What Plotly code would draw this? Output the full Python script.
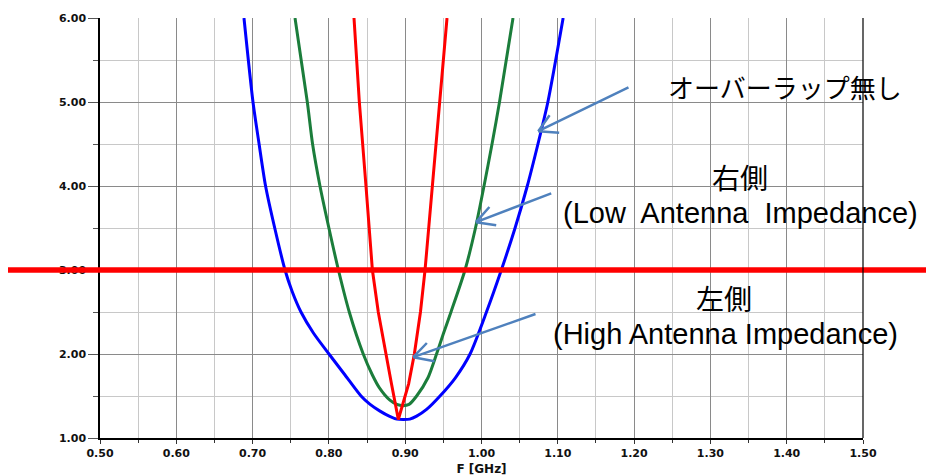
import plotly.graph_objects as go

# ---- data ----
blue_f = [0.6887, 0.7005, 0.7085, 0.7170, 0.7290, 0.7425, 0.7516, 0.7634, 0.7797, 0.8001,
          0.8211, 0.8421, 0.8540, 0.8670, 0.8790, 0.8890, 0.8980, 0.9060, 0.9150, 0.9280,
          0.9456, 0.9660, 0.9850, 1.0065, 1.0260, 1.0440, 1.0600, 1.0740, 1.0870, 1.1070]
blue_v = [6.00, 5.00, 4.50, 4.00, 3.50, 3.00, 2.75, 2.50, 2.25, 2.00,
          1.75, 1.50, 1.40, 1.32, 1.26, 1.225, 1.22, 1.225, 1.26, 1.34,
          1.50, 1.72, 2.00, 2.50, 3.00, 3.50, 4.00, 4.50, 5.00, 6.00]

green_f = [0.7556, 0.7717, 0.7786, 0.7883, 0.8000, 0.8125, 0.8267, 0.8450, 0.8570, 0.8660,
           0.8800, 0.8890, 0.8970, 0.9050, 0.9150, 0.9300, 0.9411, 0.9500, 0.9600, 0.9784,
           0.9921, 1.0033, 1.0138, 1.0236, 1.0413]
green_v = [6.00, 5.00, 4.50, 4.00, 3.50, 3.00, 2.50, 2.00, 1.75, 1.60,
           1.45, 1.40, 1.385, 1.40, 1.50, 1.72, 2.00, 2.24, 2.50, 3.00,
           3.50, 4.00, 4.50, 5.00, 6.00]

red_f = [0.8329, 0.8399, 0.8486, 0.8570, 0.8647, 0.8690, 0.8745, 0.8820, 0.8910,
         0.9045, 0.9120, 0.9200, 0.9260, 0.9355, 0.9447, 0.9548]
red_v = [6.00, 5.00, 4.00, 3.00, 2.50, 2.28, 2.00, 1.645, 1.22,
         1.645, 2.00, 2.50, 3.00, 4.00, 5.00, 6.00]

threshold = 3.0
x_ticks = [0.5, 0.6, 0.7, 0.8, 0.9, 1.0, 1.1, 1.2, 1.3, 1.4, 1.5]
y_ticks = [1.0, 2.0, 3.0, 4.0, 5.0, 6.0]

label_none = "オーバーラップ無し"
label_right = "右側"
label_right_en = "(Low\u00a0 Antenna\u00a0 Impedance)"
label_left = "左側"
label_left_en = "(High Antenna Impedance)"

# ---- layout geometry (page body has an 8px offset) ----
OFF = 8
W, H = 934 - OFF, 476 - OFF
ML, MR, MT, MB = 100 - OFF, 71, 18 - OFF, 38
PW, PH = W - ML - MR, H - MT - MB


def px(xp):
    return (xp - OFF - ML) / PW


def py(yp):
    return (H - MB - (yp - OFF)) / PH


fig = go.Figure()
for fx, vy, col, shp in [(blue_f, blue_v, "#0000ff", "spline"), (green_f, green_v, "#1b7d3b", "spline"),
                         (red_f, red_v, "#ff0000", "linear")]:
    fig.add_trace(go.Scatter(x=fx, y=vy, mode="lines",
                             line=dict(color=col, width=3, shape=shp, smoothing=0.7),
                             showlegend=False, hoverinfo="skip"))

# threshold line (extends past plot area)
fig.add_shape(type="line", xref="paper", yref="y", x0=px(7), x1=px(940), y0=threshold, y1=threshold,
              line=dict(color="#ff0000", width=5.5), layer="above")
# right border
fig.add_shape(type="line", xref="paper", yref="paper", x0=1, x1=1, y0=0, y1=1,
              line=dict(color="#000000", width=1.2), layer="above")

# arrows: tip on curve (data coords), tail/wings as pixel offsets
arrow_col = "#4f81bd"
arrows = [
    (1.0744, 4.652, (91.7, -44.7), [(12.4, -17.4), (22.4, 1.6)]),
    (0.9928, 3.569, (76.7, -29.4), [(14.7, -16.7), (21.7, 3.3)]),
    (0.9106, 1.962, (123.7, -43.7), [(15.0, -15.7), (22.7, 4.3)]),
]
for tx, ty, tail, wings in arrows:
    for ax, ay in [tail] + wings:
        fig.add_annotation(x=tx, y=ty, xref="x", yref="y", ax=ax, ay=ay, text="",
                           showarrow=True, arrowhead=0, arrowwidth=2.5, arrowcolor=arrow_col,
                           standoff=0, startstandoff=0)

jp = "Noto Sans CJK JP"
en = "Liberation Sans"
texts = [
    (label_none, 785, 87, jp, 26),
    (label_right, 740, 177, jp, 28),
    (label_right_en, 740, 213, en, 29),
    (label_left, 724, 298, jp, 28),
    (label_left_en, 725, 334, en, 29),
]
for t, x, y, fam, sz in texts:
    fig.add_annotation(x=px(x), y=py(y), xref="paper", yref="paper", text=t, showarrow=False,
                       xanchor="center", yanchor="middle", font=dict(family=fam, size=sz, color="#000000"))

tickfont = dict(family="DejaVu Sans", size=11, color="#111111", weight="bold")
fig.update_xaxes(range=[0.5, 1.5], tickvals=x_ticks, ticktext=[f"{v:.2f}" for v in x_ticks],
                 showgrid=True, gridcolor="#8a8a8a", gridwidth=1,
                 ticks="outside", ticklen=4, tickcolor="#333333", tickwidth=1,
                 minor=dict(dtick=0.05, tick0=0.5, showgrid=True, gridcolor="#c8c8c8", gridwidth=1,
                            ticks="outside", ticklen=3, tickcolor="#333333"),
                 showline=True, linecolor="#000000", linewidth=1.5, zeroline=False,
                 tickfont=tickfont,
                 title=dict(text="F [GHz]", font=dict(family="DejaVu Sans", size=12, color="#111111", weight="bold"),
                            standoff=6))
fig.update_yaxes(range=[1, 6], tickvals=y_ticks, ticktext=[f"{v:.2f}" for v in y_ticks],
                 showgrid=True, gridcolor="#8a8a8a", gridwidth=1,
                 ticks="outside", ticklen=10, tickcolor="#555555", tickwidth=1,
                 minor=dict(dtick=0.5, tick0=1, showgrid=True, gridcolor="#c8c8c8", gridwidth=1,
                            ticks="outside", ticklen=5, tickcolor="#555555"),
                 showline=True, linecolor="#000000", linewidth=1.5, zeroline=False,
                 tickfont=tickfont)

fig.update_layout(width=W, height=H, margin=dict(l=ML, r=MR, t=MT, b=MB, autoexpand=False),
                  paper_bgcolor="#ffffff", plot_bgcolor="#ffffff", showlegend=False)

fig.write_html("out.html")
